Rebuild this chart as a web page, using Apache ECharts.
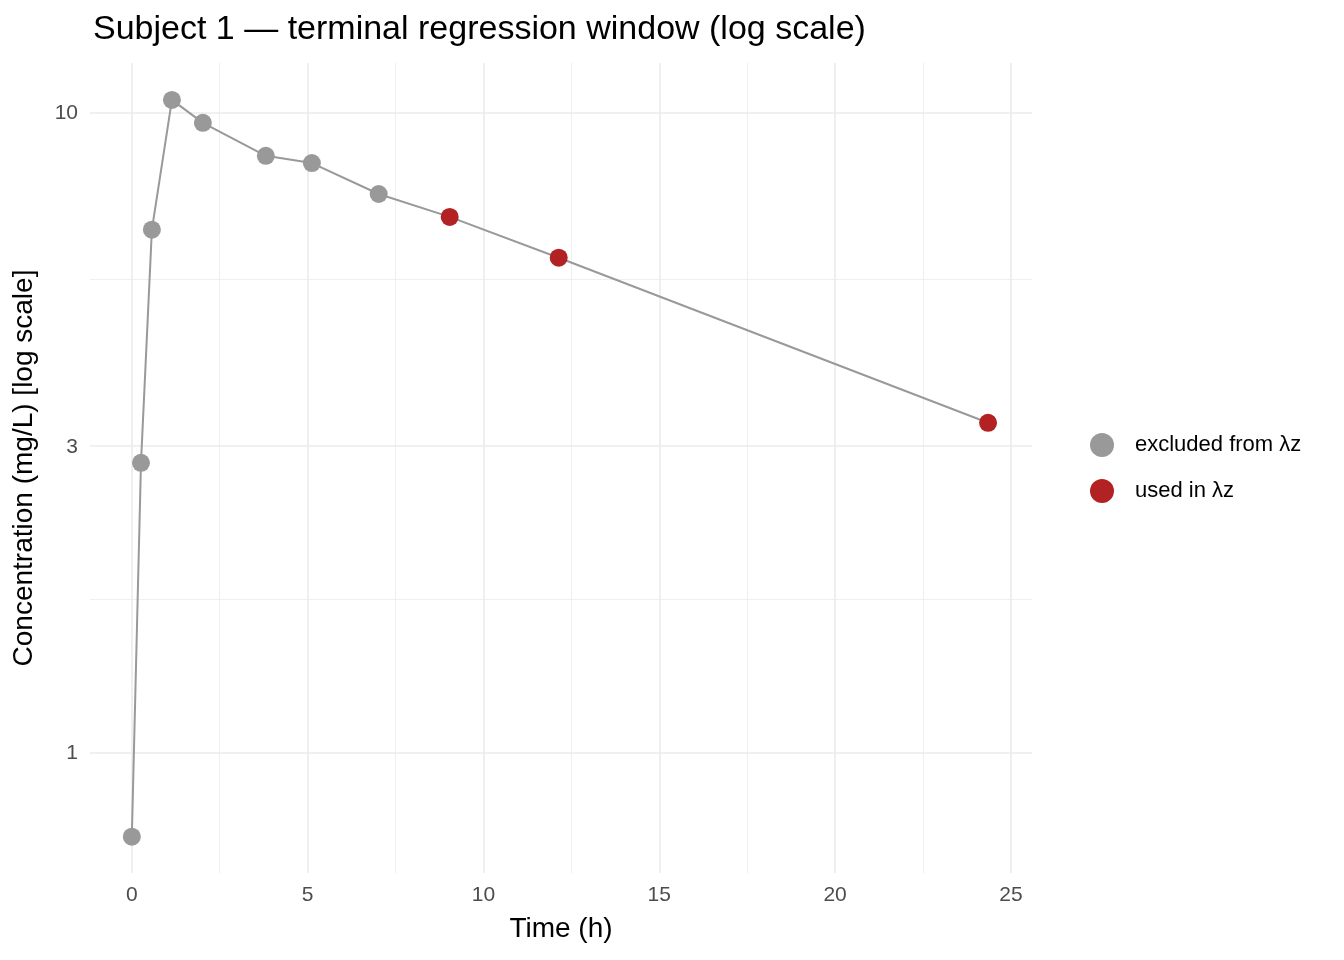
<!DOCTYPE html>
<html>
<head>
<meta charset="utf-8">
<title>Subject 1</title>
<script src="https://cdn.jsdelivr.net/npm/echarts@6/dist/echarts.min.js"></script>
<style>
  html, body { margin: 0; padding: 0; background: #fff; }
  #chart { width: 1344px; height: 960px; }
</style>
</head>
<body>
<div id="chart"></div>
<script>
  // 时间与浓度
  var timeH = [0, 0.26, 0.57, 1.14, 2.02, 3.81, 5.12, 7.02, 9.04, 12.14, 24.35];
  var conc = [0.74, 2.84, 6.57, 10.48, 9.65, 8.57, 8.35, 7.47, 6.88, 5.94, 3.28];
  var usedInLz = [false, false, false, false, false, false, false, false, true, true, true];

  var yBreaks = [1, 3, 10];
  var yMinorBreaks = [1.732, 5.477];
  var xBreaks = [0, 5, 10, 15, 20, 25];
  var xMinorBreaks = [2.5, 7.5, 12.5, 17.5, 22.5];

  var lg = function (v) { return Math.log10(v); };

  var lineData = timeH.map(function (t, i) { return [t, lg(conc[i])]; });
  var excluded = [], used = [];
  timeH.forEach(function (t, i) {
      (usedInLz[i] ? used : excluded).push([t, lg(conc[i])]);
  });

  var gridLines = [];
  xMinorBreaks.forEach(function (v) { gridLines.push({xAxis: v, lineStyle: {width: 0.8}}); });
  xBreaks.forEach(function (v) { gridLines.push({xAxis: v, lineStyle: {width: 1.6}}); });
  yMinorBreaks.forEach(function (v) { gridLines.push({yAxis: lg(v), lineStyle: {width: 0.8}}); });
  yBreaks.forEach(function (v) { gridLines.push({yAxis: lg(v), lineStyle: {width: 1.6}}); });

  var chart = echarts.init(document.getElementById('chart'));
  var option = {
      backgroundColor: '#fff',
      animation: false,
      title: {
          text: 'Subject 1 \u2014 terminal regression window (log scale)',
          left: 88, top: 8,
          textStyle: {fontFamily: 'Liberation Sans', fontSize: 34, fontWeight: 'normal', color: '#000'}
      },
      legend: {
          orient: 'vertical', left: 1085, top: 428,
          itemWidth: 24, itemHeight: 24, itemGap: 22,
          icon: 'circle',
          data: ['excluded from \u03bbz', 'used in \u03bbz'],
          textStyle: {fontFamily: 'Liberation Sans', fontSize: 22, color: '#000', padding: [0, 0, 0, 16]}
      },
      grid: {left: 90, right: 312, top: 63, bottom: 87},
      xAxis: {
          type: 'value', min: -1.19, max: 25.6,
          name: 'Time (h)', nameLocation: 'middle', nameGap: 42,
          nameTextStyle: {fontFamily: 'Liberation Sans', fontSize: 28, color: '#000'},
          axisLine: {show: false}, axisTick: {show: false}, splitLine: {show: false},
          axisLabel: {customValues: xBreaks, color: '#4d4d4d', fontSize: 21, fontFamily: 'Liberation Sans', margin: 12}
      },
      yAxis: {
          type: 'value', min: -0.1875, max: 1.078,
          name: 'Concentration (mg/L) [log scale]', nameLocation: 'middle', nameGap: 52,
          nameTextStyle: {fontFamily: 'Liberation Sans', fontSize: 28, color: '#000'},
          axisLine: {show: false}, axisTick: {show: false}, splitLine: {show: false},
          axisLabel: {
              customValues: yBreaks.map(lg), color: '#4d4d4d', fontSize: 21, fontFamily: 'Liberation Sans', margin: 12,
              formatter: function (v) { return String(Math.round(Math.pow(10, v))); }
          }
      },
      series: [
          {
              type: 'line', data: [], silent: true, z: 0, zlevel: 0,
              markLine: {symbol: 'none', silent: true, label: {show: false}, z: 0,
                         lineStyle: {color: '#ebebeb', type: 'solid'}, data: gridLines}
          },
          {
              type: 'line', data: lineData, symbol: 'none',
              lineStyle: {color: '#999999', width: 2}, z: 5
          },
          {
              name: 'excluded from \u03bbz', type: 'scatter', data: excluded,
              symbolSize: 18, itemStyle: {color: '#999999', opacity: 1}, z: 6
          },
          {
              name: 'used in \u03bbz', type: 'scatter', data: used,
              symbolSize: 18, itemStyle: {color: '#B22222', opacity: 1}, z: 6
          }
      ]
  };
  chart.setOption(option);
</script>
</body>
</html>
